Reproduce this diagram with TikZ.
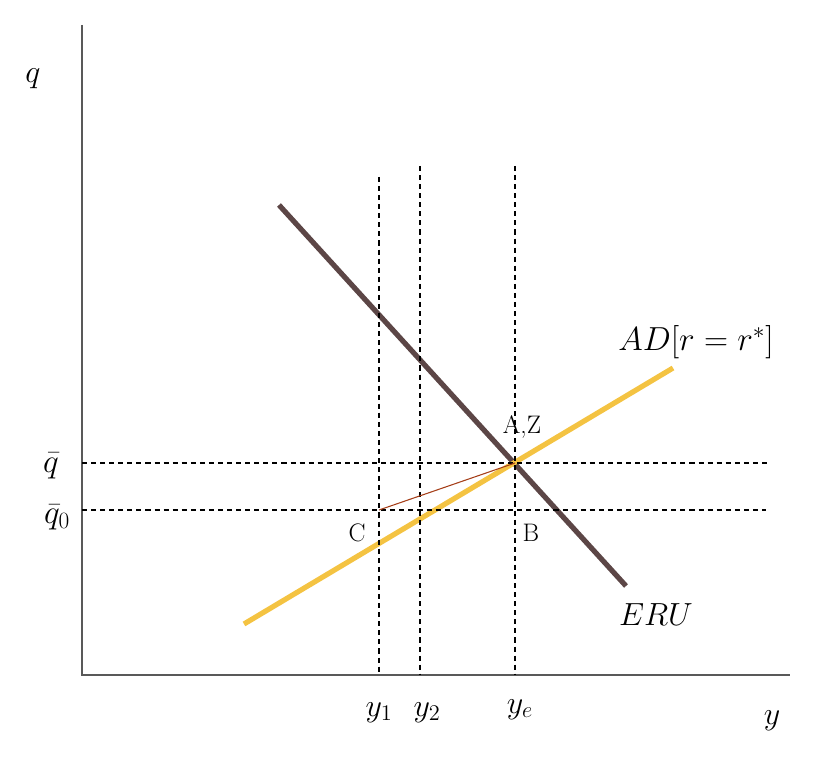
\RequirePackage{fix-cm}
\documentclass[tikz,border=0pt]{standalone}
\usepackage{fontspec}
\usetikzlibrary{positioning}
\definecolor{erubrown}{RGB}{92,70,70}
\definecolor{adyellow}{RGB}{244,195,66}
\definecolor{pathred}{RGB}{165,62,24}
\definecolor{axisgrey}{RGB}{89,89,89}
\tikzstyle{axe}=[draw=axisgrey,line width=1.1pt]
\tikzstyle{pointille}=[dash pattern=on 3.8pt off 3pt,line width=0.8pt]
\tikzstyle{courbe}=[line width=3.9pt]
\tikzstyle{lettre}=[font=\fontsize{19}{22}\selectfont,inner sep=0pt,anchor=base]
\tikzstyle{grandeur}=[font=\fontsize{24}{28}\selectfont,inner sep=0pt,anchor=base]
\tikzstyle{niveau}=[font=\fontsize{25}{30}\selectfont,inner sep=0pt,anchor=base]

\begin{document}
\begin{tikzpicture}[x=0.75pt,y=-0.75pt]
\useasboundingbox (0,0) rectangle (824,766);

% axes
\coordinate (O) at (82,675);
\coordinate (Ymax) at (82,25);
\coordinate (Xmax) at (790,675);
\draw[axe] (Ymax) -- (O) -- (Xmax);
\node[grandeur] (Lq) at (33,83) {$q$};
\node[grandeur] (Ly) at (772,724) {$y$};

% courbes
\coordinate (ERU0) at (279,205);
\coordinate (ERU1) at (626,586);
\coordinate (AD0) at (244,624);
\coordinate (AD1) at (673,368);
\draw[courbe,erubrown] (ERU0) -- (ERU1);
\draw[courbe,adyellow] (AD0) -- (AD1);
\node[grandeur] (LERU) at (656,625) {$ERU$};
\node[grandeur,font=\fontsize{25}{30}\selectfont] (LAD) at (696,351) {$AD[r=r^*]$};

% niveaux de q
\coordinate (Qbar0) at (82,463);
\coordinate (Qbar1) at (768,463);
\coordinate (Qzero0) at (82,510);
\coordinate (Qzero1) at (766,510);
\draw[pointille] (Qbar0) -- (Qbar1);
\draw[pointille] (Qzero0) -- (Qzero1);
\node[niveau] (Lqbar) at (51,472) {$\bar{q}$};
\node[niveau] (Lqzero) at (57,523) {$\bar{q}_0$};

% niveaux de y
\coordinate (Y1h) at (379,177);
\coordinate (Y1b) at (379,675);
\coordinate (Y2h) at (420,166);
\coordinate (Y2b) at (420,675);
\coordinate (Yeh) at (515,166);
\coordinate (Yeb) at (515,675);
\draw[pointille] (Y1h) -- (Y1b);
\draw[pointille] (Y2h) -- (Y2b);
\draw[pointille] (Yeh) -- (Yeb);
\node[grandeur] (Ly1) at (379,716) {$y_1$};
\node[grandeur] (Ly2) at (427,716) {$y_2$};
\node[grandeur] (Lye) at (520,713) {$y_e$};

% points
\coordinate (C) at (379,510);
\coordinate (A) at (515,463);
\draw[pathred,line width=0.8pt] (C) -- (A);
\node[lettre] (LAZ) at (522,433) {A,Z};
\node[lettre] (LC) at (357,541) {C};
\node[lettre] (LB) at (531,541) {B};

\end{tikzpicture}
\end{document}
